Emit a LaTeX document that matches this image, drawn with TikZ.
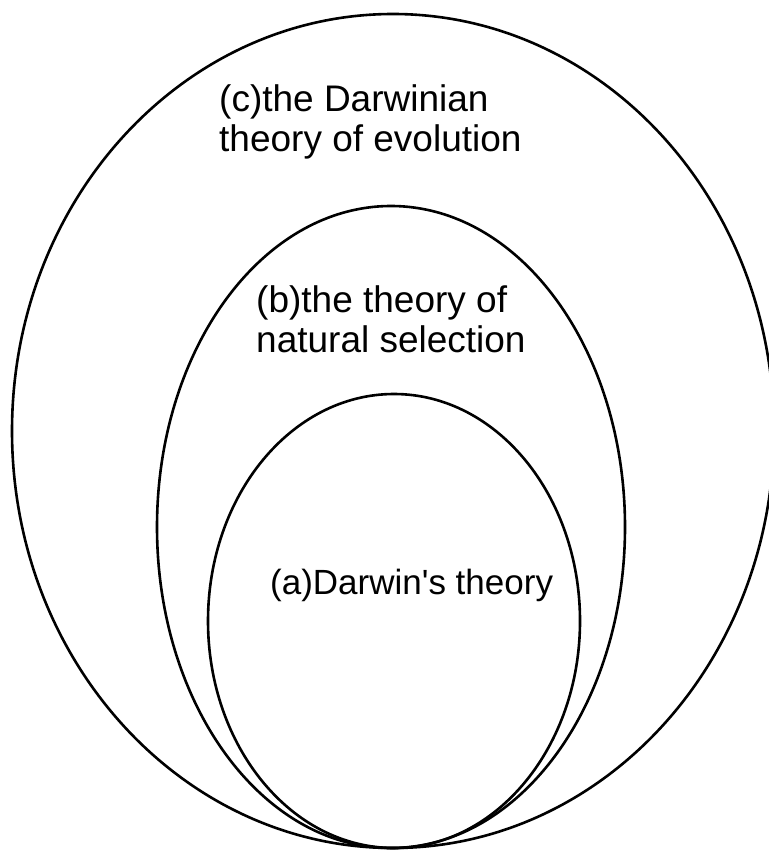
\documentclass[tikz,border=0pt]{standalone}
\usepackage{fontspec}
\setmainfont{Liberation Sans}

\begin{document}
\begin{tikzpicture}[x=1pt,y=-1pt]
    	\def\ellipseA{(394,621) ellipse (186 and 227)} %a
    	\def\ellipseB{(391,527) ellipse (234 and 321)} %b
    	\def\ellipseC{(393,431) ellipse (381 and 417)} %c
    
    	\colorlet{ellipse edge}{black}
    
    	\tikzset{
    		outline/.style={draw=ellipse edge, line width=2.6pt},
    		theorytext/.style={anchor=base west, align=left, inner sep=0pt,
    			font=\fontsize{37}{40}\selectfont},
    	}
    
    	\useasboundingbox (0,0) rectangle (768,850);
    
    	\draw[outline] \ellipseC;
    	\draw[outline] \ellipseB;
    	\draw[outline] \ellipseA;
    
    	% base anchor sits on the last line
    	\node[theorytext] (theoryC) at (219,152) {(c)the Darwinian\\theory of evolution};
    	\node[theorytext] (theoryB) at (256,352) {(b)the theory of\\natural selection};
    	\node[theorytext, font=\fontsize{35}{40}\selectfont] (theoryA) at (270,594) {(a)Darwin\textquotesingle s theory};
\end{tikzpicture}
\end{document}
